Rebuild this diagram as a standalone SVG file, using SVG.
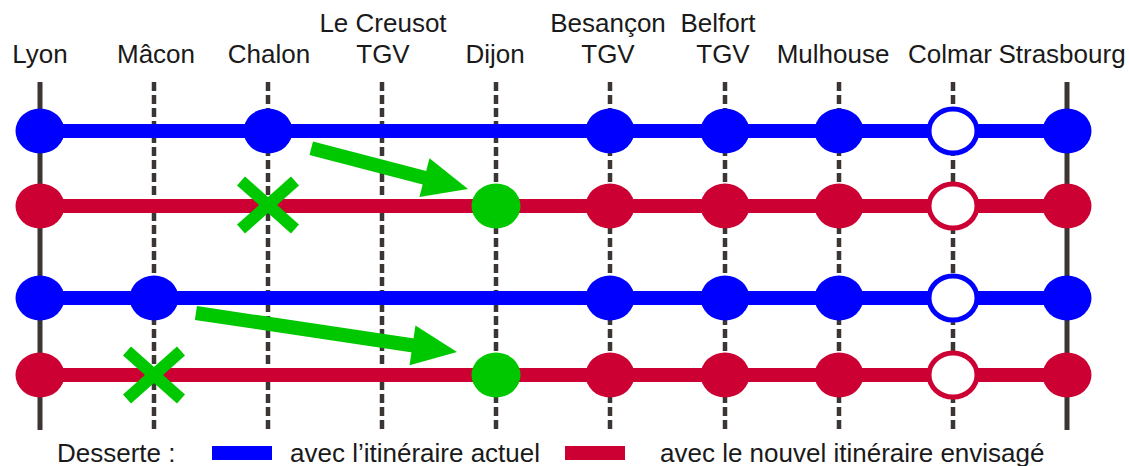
<svg xmlns="http://www.w3.org/2000/svg" width="1129" height="466" viewBox="0 0 1129 466">
  <style>
    .lbl { font-family: "Liberation Sans", Arial, sans-serif; font-size: 26px; fill: #1a1a1a; text-anchor: middle; }
    .leg { font-family: "Liberation Sans", Arial, sans-serif; font-size: 26px; fill: #1a1a1a; }
    .term { stroke: #3b3633; stroke-width: 5; }
    .stop { stroke: #3b3633; stroke-width: 4.5; stroke-dasharray: 9 4; }
    .blue { fill: #0000ff; }
    .red { fill: #cc0033; }
    .green { fill: #00c800; }
    .ring-b { fill: #ffffff; stroke: #0000ff; stroke-width: 5; }
    .ring-r { fill: #ffffff; stroke: #cc0033; stroke-width: 5; }
    .lineB { stroke: #0000ff; stroke-width: 14; }
    .lineR { stroke: #cc0033; stroke-width: 14; }
    .cross { stroke: #00c800; stroke-width: 12; }
  </style>
  <defs>
    <ellipse id="dot" rx="24.5" ry="22.5"/>
    <ellipse id="ring" rx="24" ry="22"/>
    <!-- arrow head pointing along +x, tip at origin -->
    <polygon id="head" points="0,0 -45,-20 -45,20"/>
  </defs>
  <rect width="1129" height="466" fill="#ffffff"/>

  <!-- station axes -->
  <g id="axes">
    <line class="term" x1="40" y1="82" x2="40" y2="430"/>
    <line class="stop" x1="154" y1="82" x2="154" y2="430"/>
    <line class="stop" x1="268" y1="82" x2="268" y2="430"/>
    <line class="stop" x1="382" y1="82" x2="382" y2="430"/>
    <line class="stop" x1="496" y1="82" x2="496" y2="430"/>
    <line class="stop" x1="610" y1="82" x2="610" y2="430"/>
    <line class="stop" x1="725" y1="82" x2="725" y2="430"/>
    <line class="stop" x1="839" y1="82" x2="839" y2="430"/>
    <line class="stop" x1="953" y1="82" x2="953" y2="430"/>
    <line class="term" x1="1067" y1="82" x2="1067" y2="430"/>
  </g>

  <!-- station names -->
  <g id="labels">
    <text class="lbl" x="40" y="63">Lyon</text>
    <text class="lbl" x="156" y="63">Mâcon</text>
    <text class="lbl" x="269" y="63">Chalon</text>
    <text class="lbl" x="383" y="32">Le Creusot</text>
    <text class="lbl" x="383" y="63">TGV</text>
    <text class="lbl" x="495" y="63">Dijon</text>
    <text class="lbl" x="608" y="32">Besançon</text>
    <text class="lbl" x="608" y="63">TGV</text>
    <text class="lbl" x="718" y="32">Belfort</text>
    <text class="lbl" x="723" y="63">TGV</text>
    <text class="lbl" x="833" y="63">Mulhouse</text>
    <text class="lbl" x="950" y="63">Colmar</text>
    <text class="lbl" x="1062" y="63">Strasbourg</text>
  </g>

  <!-- service lines -->
  <g id="connectors">
    <line class="lineB" x1="40" y1="131" x2="1067" y2="131"/>
    <line class="lineR" x1="40" y1="206" x2="1067" y2="206"/>
    <line class="lineB" x1="40" y1="298" x2="1067" y2="298"/>
    <line class="lineR" x1="40" y1="375" x2="1067" y2="375"/>
  </g>

  <!-- row 1: current route via Chalon -->
  <g id="row1">
    <use href="#dot" class="blue" x="40" y="131"/>
    <use href="#dot" class="blue" x="268" y="131"/>
    <use href="#dot" class="blue" x="610" y="131"/>
    <use href="#dot" class="blue" x="725" y="131"/>
    <use href="#dot" class="blue" x="839" y="131"/>
    <use href="#ring" class="ring-b" x="953" y="131"/>
    <use href="#dot" class="blue" x="1067" y="131"/>
  </g>

  <!-- row 2: new route, stop moved to Dijon -->
  <g id="row2">
    <use href="#dot" class="red" x="40" y="206"/>
    <use href="#dot" class="green" x="496" y="206"/>
    <use href="#dot" class="red" x="610" y="206"/>
    <use href="#dot" class="red" x="725" y="206"/>
    <use href="#dot" class="red" x="839" y="206"/>
    <use href="#ring" class="ring-r" x="953" y="206"/>
    <use href="#dot" class="red" x="1067" y="206"/>
    <g id="cross-chalon" class="cross">
      <line x1="241" y1="181" x2="295" y2="229"/>
      <line x1="295" y1="181" x2="241" y2="229"/>
    </g>
  </g>

  <!-- row 3: current route via Mâcon -->
  <g id="row3">
    <use href="#dot" class="blue" x="40" y="298"/>
    <use href="#dot" class="blue" x="154" y="298"/>
    <use href="#dot" class="blue" x="610" y="298"/>
    <use href="#dot" class="blue" x="725" y="298"/>
    <use href="#dot" class="blue" x="839" y="298"/>
    <use href="#ring" class="ring-b" x="953" y="298"/>
    <use href="#dot" class="blue" x="1067" y="298"/>
  </g>

  <!-- row 4: new route, stop moved to Dijon -->
  <g id="row4">
    <use href="#dot" class="red" x="40" y="375"/>
    <use href="#dot" class="green" x="496" y="375"/>
    <use href="#dot" class="red" x="610" y="375"/>
    <use href="#dot" class="red" x="725" y="375"/>
    <use href="#dot" class="red" x="839" y="375"/>
    <use href="#ring" class="ring-r" x="953" y="375"/>
    <use href="#dot" class="red" x="1067" y="375"/>
    <g id="cross-macon" class="cross">
      <line x1="127" y1="351" x2="181" y2="399"/>
      <line x1="181" y1="351" x2="127" y2="399"/>
    </g>
  </g>

  <!-- transfer arrows -->
  <g id="arrow-chalon-dijon" class="green" transform="translate(468,189) rotate(14.6)">
    <rect x="-162" y="-7" width="118" height="14"/>
    <use href="#head"/>
  </g>
  <g id="arrow-macon-dijon" class="green" transform="translate(457,352) rotate(8.5)">
    <rect x="-264" y="-7" width="220" height="14"/>
    <use href="#head"/>
  </g>

  <!-- legend -->
  <g id="legend">
    <text class="leg" x="57" y="462">Desserte :</text>
    <rect class="blue" x="212" y="446" width="60" height="14"/>
    <text class="leg" x="290" y="462">avec l’itinéraire actuel</text>
    <rect class="red" x="565" y="446" width="60" height="14"/>
    <text class="leg" x="660" y="462">avec le nouvel itinéraire envisagé</text>
  </g>
</svg>
